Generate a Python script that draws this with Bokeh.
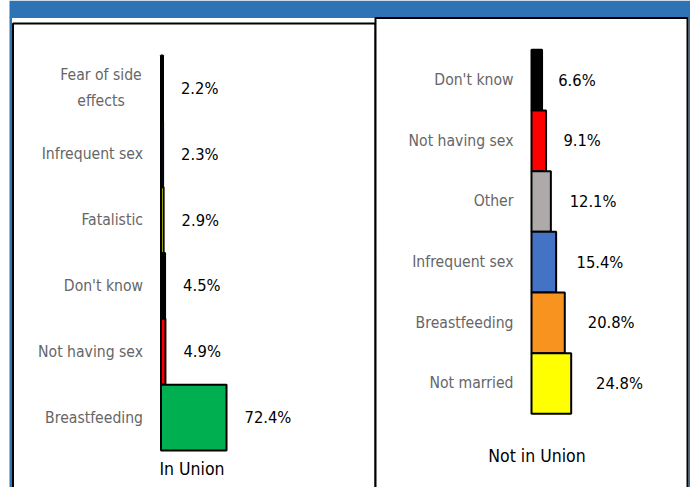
from bokeh.plotting import figure
from bokeh.models import Range1d, ColumnDataSource
from bokeh.core.properties import value
from bokeh.embed import file_html
from bokeh.resources import INLINE

# ---------------- data ----------------
union_reasons = ["Fear of side\neffects", "Infrequent sex", "Fatalistic",
                 "Don't know", "Not having sex", "Breastfeeding"]
union_values = [2.2, 2.3, 2.9, 4.5, 4.9, 72.4]
union_colors = ["#7F7F7F", "#4472C4", "#FFFF00", "#000000", "#FF0000", "#00B050"]

nonunion_reasons = ["Don't know", "Not having sex", "Other",
                    "Infrequent sex", "Breastfeeding", "Not married"]
nonunion_values = [6.6, 9.1, 12.1, 15.4, 20.8, 24.8]
nonunion_colors = ["#000000", "#FF0000", "#AEAAAA", "#4472C4", "#F7931E", "#FFFF00"]

panel_titles = ["In Union", "Not in Union"]

# ---------------- layout ----------------
FONT = "DejaVu Sans Condensed"
W, H = 690, 487
X0, Y0 = 0, 0
X1, Y1 = X0 + W, Y0 + H
BLUE = "#2E74B5"

p = figure(width=W, height=H, x_range=Range1d(X0, X1), y_range=Range1d(Y1, Y0),
           output_backend="svg", toolbar_location=None, min_border=0,
           x_axis_type=None, y_axis_type=None)
p.grid.visible = False
p.outline_line_color = None
p.background_fill_color = "white"
p.border_fill_color = "white"

# frame decorations (pixel coordinates)
p.quad(left=[9], right=[X1], top=[Y0], bottom=[17.5], fill_color=BLUE, line_color=None)
p.quad(left=[9], right=[11.5], top=[17], bottom=[Y1 + 5], fill_color=BLUE, line_color=None)
p.quad(left=[688], right=[X1], top=[17], bottom=[Y1 + 5], fill_color=BLUE, line_color=None)
p.quad(left=[12.5], right=[375], top=[23], bottom=[Y1 + 10], fill_color="white",
       line_color="black", line_width=2)
p.quad(left=[375], right=[687], top=[17.5], bottom=[Y1 + 10], fill_color="white",
       line_color="black", line_width=2)


def add_panel(name, reasons, values, colors, base_x, px_per_pct, row_top, row_bottom,
              off_a, off_b):
    n = len(reasons)
    unit = (row_bottom - row_top) / n
    xr = Range1d((X0 - base_x) / px_per_pct, (X1 - base_x) / px_per_pct)
    yr = Range1d((Y1 - row_top) / unit - 0.5, (Y0 - row_top) / unit - 0.5)
    p.extra_x_ranges[name] = xr
    p.extra_y_ranges[name] = yr
    ys = list(range(n))
    src = ColumnDataSource(dict(
        y=ys, v=values, color=colors,
        vtxt=[f"{v:.1f}%" for v in values],
        xoff=[off_a + off_b * v * px_per_pct for v in values],
    ))
    p.hbar(y="y", left=0, right="v", height=1, source=src, fill_color="color",
           line_color="black", line_width=2, x_range_name=name, y_range_name=name)

    single = [(y, r) for y, r in zip(ys, reasons) if "\n" not in r]
    multi = [(y, r) for y, r in zip(ys, reasons) if "\n" in r]
    common = dict(text_baseline="middle", text_font=value(FONT), text_font_size="15.6px",
                  text_color="#666666", x_range_name=name, y_range_name=name)
    if single:
        s1 = ColumnDataSource(dict(y=[a for a, _ in single], t=[b for _, b in single]))
        p.text(x=0, y="y", text="t", source=s1, x_offset=-18, text_align="right", **common)
    if multi:
        s2 = ColumnDataSource(dict(y=[a for a, _ in multi], t=[b for _, b in multi]))
        p.text(x=0, y="y", text="t", source=s2, x_offset=-60, text_align="center",
               text_line_height=1.45, **common)

    p.text(x="v", y="y", text="vtxt", source=src, x_offset="xoff", text_align="left",
           text_baseline="middle", text_font=value(FONT), text_font_size="16.4px",
           text_color="black", x_range_name=name, y_range_name=name)


add_panel("u", union_reasons, union_values, union_colors,
          base_x=160.5, px_per_pct=0.905, row_top=55, row_bottom=450, off_a=18, off_b=0)
add_panel("n", nonunion_reasons, nonunion_values, nonunion_colors,
          base_x=531, px_per_pct=1.60, row_top=49.3, row_bottom=413.3, off_a=13, off_b=0.3)

p.text(x=[191.5, 536.5], y=[468, 455], text=panel_titles, text_align="center",
       text_baseline="middle", text_font=value(FONT), text_font_size="17.5px",
       text_color="black")

open("out.html", "w").write(file_html(p, INLINE))
